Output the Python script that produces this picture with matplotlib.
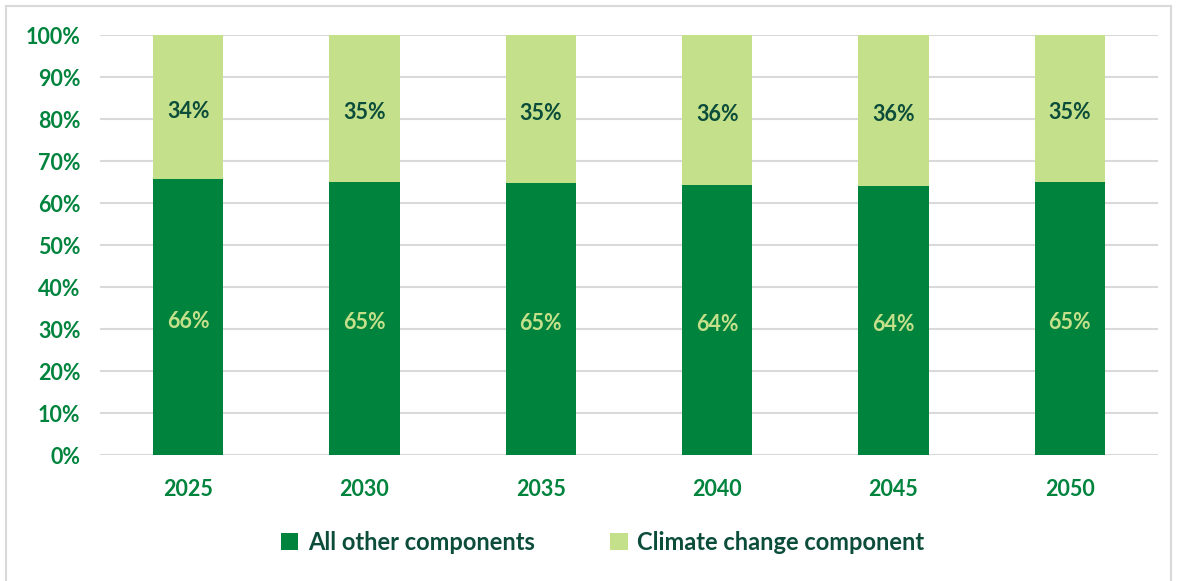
import numpy as np
import matplotlib.pyplot as plt
from matplotlib.patches import Rectangle

years = ["2025", "2030", "2035", "2040", "2045", "2050"]
other = [65.8, 65.1, 64.7, 64.3, 64.0, 65.1]
climate = [34.2, 34.9, 35.3, 35.7, 36.0, 34.9]
ticks = [0, 10, 20, 30, 40, 50, 60, 70, 80, 90, 100]

dark = "#00843D"
light = "#C5E08A"
text_dark = "#0B4D3A"

plt.rcParams['font.family'] = ['Lato', 'DejaVu Sans']

fig = plt.figure(figsize=(11.79, 5.81), dpi=100)
ax = fig.add_axes([100 / 1179, 1 - 455 / 581, 1058 / 1179, 420 / 581])

x = np.arange(len(years))
ax.bar(x, other, width=0.4, color=dark, label="All other components", zorder=2)
ax.bar(x, climate, width=0.4, bottom=other, color=light, label="Climate change component", zorder=2)

# percentage labels in the middle of each segment
for i in range(len(years)):
    ax.text(x[i], other[i] / 2 - 1, f"{other[i]:.0f}%", ha="center", va="center",
            color=light, fontsize=15.5, fontweight="bold")
    ax.text(x[i], other[i] + climate[i] / 2 - 1, f"{climate[i]:.0f}%", ha="center", va="center",
            color=text_dark, fontsize=15.5, fontweight="bold")

ax.set_xlim(-0.5, len(years) - 0.5)
ax.set_ylim(0, 100)
ax.set_yticks(ticks)
ax.set_yticklabels([f"{t}%" for t in ticks])
ax.set_xticks(x)
ax.set_xticklabels(years)
ax.tick_params(length=0, labelsize=15.5, labelcolor=dark)
ax.tick_params(axis="x", pad=17)
ax.tick_params(axis="y", pad=14)
for lab in ax.get_xticklabels() + ax.get_yticklabels():
    lab.set_fontweight("bold")
ax.grid(axis="y", color="#D9D9D9", linewidth=1.5, zorder=0)
ax.set_axisbelow(True)
for s in ax.spines.values():
    s.set_visible(False)

leg = fig.legend(loc="center", bbox_to_anchor=(0.511, 1 - 542 / 581), ncol=2, frameon=False,
                 handlelength=0.75, handleheight=0.75, handletextpad=0.4, columnspacing=3.2,
                 prop={"size": 17, "weight": "bold"})
for t in leg.get_texts():
    t.set_color(text_dark)

fig.patches.append(Rectangle((6 / 1179, -0.05), 1165 / 1179, 1.05 - 6 / 581, transform=fig.transFigure,
                             fill=False, edgecolor="#D9D9D9", linewidth=1.5))

fig.savefig("out.png", dpi=100)
